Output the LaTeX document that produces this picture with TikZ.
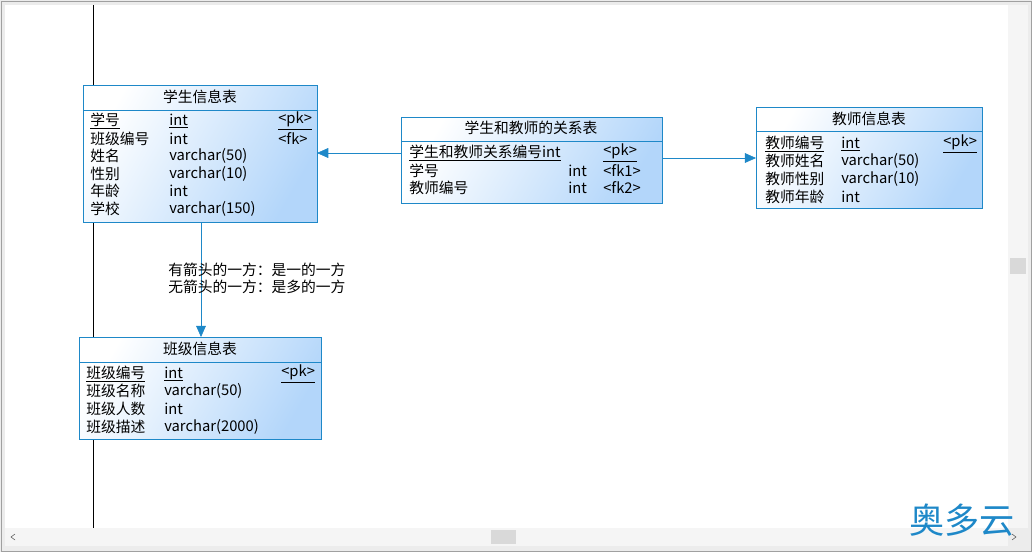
\documentclass[tikz,border=0pt]{standalone}
\usepackage{fontspec}
\setmainfont{Noto Sans CJK SC}
\usetikzlibrary{arrows.meta}
\definecolor{pd-blue}{HTML}{1E88C8}
\definecolor{pd-fill}{HTML}{B3D6FA}
\definecolor{pd-frame}{HTML}{A0A0A0}
\tikzset{
  entity/.style={draw=pd-blue, left color=white, right color=pd-fill, shading angle=60},
  field/.style={anchor=west, inner sep=0pt, font=\fontsize{10.5}{12}\selectfont},
  title/.style={inner sep=0pt, font=\fontsize{10.5}{12}\selectfont},
  link/.style={draw=pd-blue, -{Triangle[length=8pt,width=7pt]}},
}
\begin{document}
\begin{tikzpicture}[x=0.025cm,y=-0.025cm]
\useasboundingbox (0,0) rectangle (1032,552);
% window
\fill[gray!15] (0,0) rectangle (1032,552);
\fill[white] (5,5) rectangle (1008,528);
\fill[gray!8] (1008,5) rectangle (1028,528);
\fill[gray!8] (5,528) rectangle (1008,546);
\fill[gray!30] (1010,258) rectangle (1026,274);
\fill[gray!30] (491,530) rectangle (516,544);
\draw[pd-frame] (1,1) rectangle (1031,551);
\draw[gray!70!black] (15,534) -- (11,537) -- (15,540);
\draw[gray!70!black] (1012,534) -- (1016,537) -- (1012,540);
\draw (93,5) -- (93,528);
% students
\node[entity, minimum width=234*0.025cm, minimum height=137*0.025cm, anchor=north west] (student) at (83,85) {};
\draw[pd-blue] (83,110) -- (317,110);
\node[title] at (200,97) {学生信息表};
\node[field] at (90,121) {\underline{学号}};
\node[field] at (169,121) {\underline{int}};
\node[field] at (278,121) {\underline{<pk>}};
\node[field] at (90,139) {班级编号};
\node[field] at (169,139) {int};
\node[field] at (278,139) {<fk>};
\node[field] at (90,156) {姓名};
\node[field] at (169,156) {varchar(50)};
\node[field] at (90,174) {性别};
\node[field] at (169,174) {varchar(10)};
\node[field] at (90,191) {年龄};
\node[field] at (169,191) {int};
\node[field] at (90,209) {学校};
\node[field] at (169,209) {varchar(150)};
% relation
\node[entity, minimum width=261*0.025cm, minimum height=86*0.025cm, anchor=north west] (relation) at (401,117) {};
\draw[pd-blue] (401,141) -- (662,141);
\node[title] at (531,128) {学生和教师的关系表};
\node[field] at (409,153) {\underline{学生和教师关系编号int}};
\node[field] at (603,153) {\underline{<pk>}};
\node[field] at (409,171) {学号};
\node[field] at (568,171) {int};
\node[field] at (603,171) {<fk1>};
\node[field] at (409,188) {教师编号};
\node[field] at (568,188) {int};
\node[field] at (603,188) {<fk2>};
% teachers
\node[entity, minimum width=226*0.025cm, minimum height=101*0.025cm, anchor=north west] (teacher) at (756,107) {};
\draw[pd-blue] (756,131) -- (982,131);
\node[title] at (869,119) {教师信息表};
\node[field] at (765,144) {\underline{教师编号}};
\node[field] at (841,144) {\underline{int}};
\node[field] at (943,144) {\underline{<pk>}};
\node[field] at (765,161) {教师姓名};
\node[field] at (841,161) {varchar(50)};
\node[field] at (765,179) {教师性别};
\node[field] at (841,179) {varchar(10)};
\node[field] at (765,197) {教师年龄};
\node[field] at (841,197) {int};
% classes
\node[entity, minimum width=242*0.025cm, minimum height=102*0.025cm, anchor=north west] (class) at (79,337) {};
\draw[pd-blue] (79,362) -- (321,362);
\node[title] at (200,349) {班级信息表};
\node[field] at (86,374) {\underline{班级编号}};
\node[field] at (164,374) {\underline{int}};
\node[field] at (281,374) {\underline{<pk>}};
\node[field] at (86,391) {班级名称};
\node[field] at (164,391) {varchar(50)};
\node[field] at (86,409) {班级人数};
\node[field] at (164,409) {int};
\node[field] at (86,427) {班级描述};
\node[field] at (164,427) {varchar(2000)};
% links
\coordinate (r1) at (401,153);
\coordinate (s1) at (317,153);
\coordinate (r2) at (662,158);
\coordinate (t1) at (756,158);
\coordinate (s2) at (201,222);
\coordinate (c1) at (201,337);
\draw[link] (r1) -- (s1);
\draw[link] (r2) -- (t1);
\draw[link] (s2) -- (c1);
\node[field] (note1) at (168,270) {有箭头的一方：是一的一方};
\node[field] (note2) at (168,287) {无箭头的一方：是多的一方};
\node[text=pd-blue, font=\fontsize{25}{27}\selectfont, inner sep=0pt] (mark) at (962,520) {奥多云};
\end{tikzpicture}
\end{document}
